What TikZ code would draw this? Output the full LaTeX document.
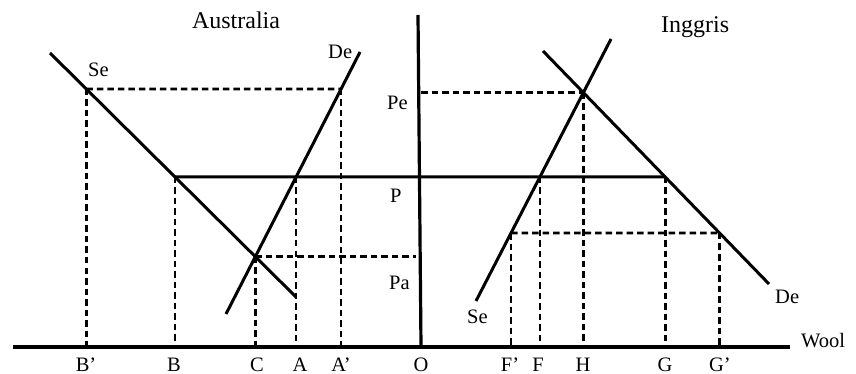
\documentclass[tikz,border=0pt]{standalone}
\usepackage{fontspec}
\setmainfont{Liberation Serif}
\usetikzlibrary{intersections}
\begin{document}
\begin{tikzpicture}[x=1pt,y=-1pt,
  curve/.style={line width=3pt},
  guide/.style={line width=2.8pt, dash pattern=on 6.5pt off 4pt},
  axisline/.style={line width=3.2pt},
  lbl/.style={inner sep=0pt, font=\fontsize{20.5}{24}\selectfont},
  ttl/.style={inner sep=0pt, font=\fontsize{24}{28}\selectfont}]
\useasboundingbox (0,0) rectangle (856,374);
% axes
\coordinate (xl) at (13,347);
\coordinate (xr) at (790,347);
\coordinate (yt) at (418,15);
\coordinate (O) at (421,347);
% curve end points
\coordinate (sa1) at (50,53);   \coordinate (sa2) at (296,297);
\coordinate (da1) at (226,314); \coordinate (da2) at (360,52);
\coordinate (si1) at (476,301); \coordinate (si2) at (611,39);
\coordinate (di1) at (543,51);  \coordinate (di2) at (769,284);
% supply / demand curves
\draw[curve, name path=sa] (sa1) -- (sa2);
\draw[curve, name path=da] (da1) -- (da2);
\draw[curve, name path=si] (si1) -- (si2);
\draw[curve, name path=di] (di1) -- (di2);
% helper levels
\path[name path=hPe] (0,89) -- (420,89);
\path[name path=hP] (0,177) -- (856,177);
\path[name path=hlow] (420,233) -- (856,233);
\path[name intersections={of=sa and hPe, by=Bp}];
\path[name intersections={of=da and hPe, by=Ap}];
\path[name intersections={of=sa and hP, by=B}];
\path[name intersections={of=da and hP, by=A}];
\path[name intersections={of=sa and da, by=C}];
\path[name intersections={of=si and hP, by=F}];
\path[name intersections={of=di and hP, by=G}];
\path[name intersections={of=si and di, by=H}];
\path[name intersections={of=si and hlow, by=Fp}];
\path[name intersections={of=di and hlow, by=Gp}];
\coordinate (paend) at (416,0);
% axes
\draw[axisline] (xl) -- (xr);
\draw[axisline] (O) -- (yt);
% dashed guides
\draw[guide] (Bp) -- (Ap);
\draw[guide] (Bp) -- (Bp |- O);
\draw[guide] (Ap) -- (Ap |- O);
\draw[guide] (B) -- (B |- O);
\draw[guide] (A) -- (A |- O);
\draw[guide] (C) -- (C |- O);
\draw[guide] (C) -- (paend |- C);
\draw[guide] (O |- H) -- (H);
\draw[guide] (H) -- (H |- O);
\draw[guide] (F) -- (F |- O);
\draw[guide] (G) -- (G |- O);
\draw[guide] (Fp) -- (Gp);
\draw[guide] (Fp) -- (Fp |- O);
\draw[guide] (Gp) -- (Gp |- O);
% world price line
\draw[curve] (B) -- (G);
% titles
\node[ttl, anchor=base] (tA) at (236,29) {Australia};
\node[ttl, anchor=base west] (tI) at (661,33) {Inggris};
% curve labels
\node[lbl, anchor=base west] (lSa) at (88,77) {Se};
\node[lbl, anchor=base west] (lDa) at (328,59) {De};
\node[lbl, anchor=base west] (lSi) at (467,323) {Se};
\node[lbl, anchor=base west] (lDi) at (775,303) {De};
% price labels
\node[lbl, anchor=base west] (lPe) at (387,110) {Pe};
\node[lbl, anchor=base west] (lP) at (390,202) {P};
\node[lbl, anchor=base west] (lPa) at (389,289) {Pa};
\node[lbl, anchor=base west] (lW) at (801,347) {Wool};
% quantity labels
\node[lbl, anchor=base] (qBp) at (86,371) {B’};
\node[lbl, anchor=base] (qB) at (174,371) {B};
\node[lbl, anchor=base] (qC) at (257,371) {C};
\node[lbl, anchor=base] (qA) at (300,371) {A};
\node[lbl, anchor=base] (qAp) at (341,371) {A’};
\node[lbl, anchor=base] (qO) at (421,371) {O};
\node[lbl, anchor=base] (qFp) at (510,371) {F’};
\node[lbl, anchor=base] (qF) at (538,371) {F};
\node[lbl, anchor=base] (qH) at (583,371) {H};
\node[lbl, anchor=base] (qG) at (665,371) {G};
\node[lbl, anchor=base] (qGp) at (720,371) {G’};
\end{tikzpicture}
\end{document}
